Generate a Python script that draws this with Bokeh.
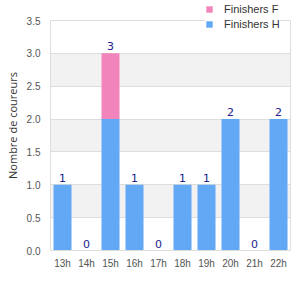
from bokeh.plotting import figure
from bokeh.models import (ColumnDataSource, FixedTicker, Legend, LegendItem,
                          CustomJSTickFormatter, LinearAxis, BoxAnnotation)
from bokeh.embed import file_html
from bokeh.resources import INLINE

hours = ["13h", "14h", "15h", "16h", "17h", "18h", "19h", "20h", "21h", "22h"]
finishers_h = [1, 0, 2, 1, 0, 1, 1, 2, 0, 2]
finishers_f = [0, 0, 1, 0, 0, 0, 0, 0, 0, 0]
y_ticks = [0, 0.5, 1.0, 1.5, 2.0, 2.5, 3.0, 3.5]
y_max = 3.5

totals = [h + f for h, f in zip(finishers_h, finishers_f)]
src = ColumnDataSource(dict(x=hours, H=finishers_h, F=finishers_f, total=totals,
                            lbl=[str(t) for t in totals]))

# frame extends 20px above the top gridline so the legend can overlap it
y_end = y_max * 250 / 230
p = figure(x_range=hours, y_range=(0, y_end), width=300, height=300,
           output_backend="svg", toolbar_location=None,
           min_border_left=50, min_border_right=10, min_border_top=0, min_border_bottom=50)
p.outline_line_color = None
p.background_fill_color = "white"
p.border_fill_color = "white"

# alternating grey bands between every other pair of ticks
for i in range(1, len(y_ticks) - 1, 2):
    p.add_layout(BoxAnnotation(bottom=y_ticks[i], top=y_ticks[i + 1], level="image",
                               fill_color="#f2f2f2", fill_alpha=1.0, line_color=None))

rs = p.vbar_stack(["H", "F"], x="x", width=0.75, source=src,
                  color=["#62a8f4", "#f184bb"], line_color=None)

p.text(x="x", y="total", text="lbl", source=src, text_align="center",
       text_baseline="bottom", y_offset=-3, text_color="#1c1c8c",
       text_font={"value": "DejaVu Sans"}, text_font_size="11px")

p.yaxis.ticker = FixedTicker(ticks=y_ticks)
p.yaxis.formatter = CustomJSTickFormatter(code="return tick.toFixed(1);")
p.yaxis.bounds = (0, y_max)
p.ygrid.ticker = FixedTicker(ticks=y_ticks)
p.ygrid.grid_line_color = "#dddddd"
p.ygrid.band_fill_color = None
p.xgrid.grid_line_color = None

for ax in (p.xaxis, p.yaxis):
    ax.axis_line_color = "#dddddd"
    ax.major_tick_line_color = None
    ax.minor_tick_line_color = None
    ax.major_tick_out = 0
    ax.major_tick_in = 0
    ax.minor_tick_out = 0
    ax.major_label_text_font = "Liberation Sans"
    ax.major_label_text_font_size = "10px"
    ax.major_label_text_color = "#555555"
p.yaxis.major_label_standoff = 10
p.xaxis.major_label_standoff = 7

p.yaxis.axis_label = "Nombre de coureurs"
p.yaxis.axis_label_text_font = "Open Sans"
p.yaxis.axis_label_text_font_style = "normal"
p.yaxis.axis_label_text_font_size = "11px"
p.yaxis.axis_label_text_color = "#333333"
p.yaxis.axis_label_standoff = 4

# right border of the plot area
rax = LinearAxis(bounds=(0, y_max), ticker=FixedTicker(ticks=[]),
                 axis_line_color="#dddddd", major_tick_line_color=None,
                 minor_tick_line_color=None, major_tick_out=0, major_tick_in=0,
                 minor_tick_out=0, major_label_standoff=0,
                 major_label_text_font_size="0px")
p.add_layout(rax, "right")

legend = Legend(items=[LegendItem(label="Finishers F", renderers=[rs[1]]),
                       LegendItem(label="Finishers H", renderers=[rs[0]])],
                location=(155, 220), orientation="vertical",
                glyph_width=8, glyph_height=8, label_height=12,
                label_text_font="Liberation Sans",
                label_text_font_size="11px", label_text_color="#333333",
                spacing=3, padding=5, margin=0, border_line_color=None,
                background_fill_color="white", background_fill_alpha=1.0,
                label_standoff=11)
p.add_layout(legend, "center")

open("out.html", "w").write(file_html(p, INLINE))
